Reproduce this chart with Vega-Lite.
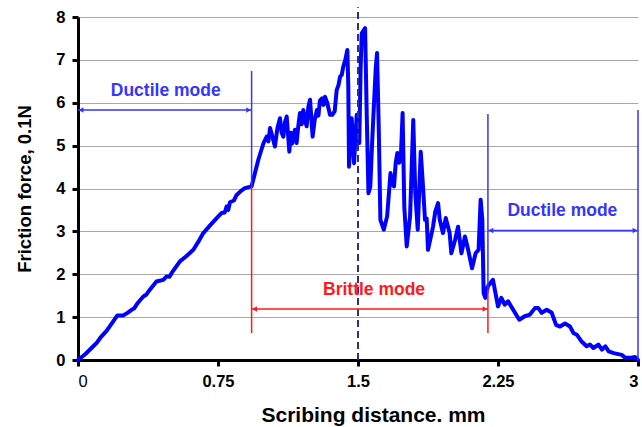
{
  "$schema": "https://vega.github.io/schema/vega-lite/v6.json",
  "autosize": {"type": "none"},
  "padding": {"left": 78, "top": 17, "right": 4, "bottom": 67},
  "width": 560,
  "height": 343,
  "background": "white",
  "config": {
    "view": {"stroke": null},
    "font": "Liberation Sans",
    "axis": {
      "labelFont": "Liberation Sans",
      "labelFontWeight": "bold",
      "labelFontSize": 16.5,
      "labelColor": "black",
      "labelPadding": 7,
      "titleFont": "Liberation Sans",
      "titleFontWeight": "bold",
      "titleColor": "black",
      "domainColor": "black",
      "domainWidth": 3,
      "tickColor": "black",
      "tickWidth": 3,
      "tickSize": 6,
      "gridColor": "#a8a8a8",
      "gridWidth": 1
    }
  },
  "datasets": {
    "friction": [
      {"x": 0, "y": 0}, {"x": 0.04, "y": 0.14}, {"x": 0.082, "y": 0.32}, {"x": 0.1, "y": 0.4}, {"x": 0.12, "y": 0.52},
      {"x": 0.153, "y": 0.68}, {"x": 0.185, "y": 0.88}, {"x": 0.211, "y": 1.04}, {"x": 0.243, "y": 1.04},
      {"x": 0.265, "y": 1.1}, {"x": 0.287, "y": 1.17}, {"x": 0.3, "y": 1.2}, {"x": 0.32, "y": 1.33}, {"x": 0.35, "y": 1.48},
      {"x": 0.365, "y": 1.52}, {"x": 0.385, "y": 1.64}, {"x": 0.42, "y": 1.83}, {"x": 0.457, "y": 1.87}, {"x": 0.475, "y": 1.95},
      {"x": 0.49, "y": 1.94}, {"x": 0.502, "y": 2.03}, {"x": 0.546, "y": 2.3}, {"x": 0.58, "y": 2.42}, {"x": 0.618, "y": 2.57},
      {"x": 0.645, "y": 2.76}, {"x": 0.671, "y": 2.96}, {"x": 0.71, "y": 3.15}, {"x": 0.743, "y": 3.31},
      {"x": 0.77, "y": 3.43}, {"x": 0.786, "y": 3.44}, {"x": 0.796, "y": 3.58}, {"x": 0.805, "y": 3.5}, {"x": 0.814, "y": 3.68}, {"x": 0.835, "y": 3.72},
      {"x": 0.85, "y": 3.85}, {"x": 0.875, "y": 3.95}, {"x": 0.894, "y": 4.01}, {"x": 0.93, "y": 4.05},
      {"x": 0.948, "y": 4.36}, {"x": 0.966, "y": 4.67}, {"x": 0.993, "y": 5.05}, {"x": 1.011, "y": 5.21},
      {"x": 1.02, "y": 5.1}, {"x": 1.029, "y": 5.41}, {"x": 1.042, "y": 5.2}, {"x": 1.055, "y": 4.98}, {"x": 1.068, "y": 5.4},
      {"x": 1.082, "y": 5.64}, {"x": 1.091, "y": 5.3}, {"x": 1.1, "y": 5.21}, {"x": 1.109, "y": 5.55}, {"x": 1.118, "y": 5.68}, {"x": 1.132, "y": 4.86},
      {"x": 1.14, "y": 5.3}, {"x": 1.147, "y": 5.05}, {"x": 1.162, "y": 5.37}, {"x": 1.171, "y": 5.06}, {"x": 1.18, "y": 5.45}, {"x": 1.189, "y": 5.76},
      {"x": 1.198, "y": 5.5}, {"x": 1.207, "y": 5.83}, {"x": 1.216, "y": 5.6}, {"x": 1.225, "y": 5.45}, {"x": 1.234, "y": 5.9}, {"x": 1.243, "y": 6.07}, {"x": 1.257, "y": 5.21},
      {"x": 1.268, "y": 5.6}, {"x": 1.28, "y": 5.83}, {"x": 1.288, "y": 5.7}, {"x": 1.296, "y": 6.05}, {"x": 1.307, "y": 6.1}, {"x": 1.315, "y": 5.95}, {"x": 1.323, "y": 6.14},
      {"x": 1.335, "y": 6.0}, {"x": 1.35, "y": 5.72}, {"x": 1.362, "y": 5.72}, {"x": 1.375, "y": 5.8},
      {"x": 1.386, "y": 6.3}, {"x": 1.395, "y": 6.4}, {"x": 1.404, "y": 6.61}, {"x": 1.413, "y": 6.65}, {"x": 1.421, "y": 6.84},
      {"x": 1.432, "y": 7.0}, {"x": 1.443, "y": 7.23}, {"x": 1.448, "y": 6.4}, {"x": 1.452, "y": 4.51},
      {"x": 1.466, "y": 5.64}, {"x": 1.479, "y": 4.59}, {"x": 1.493, "y": 5.72}, {"x": 1.502, "y": 5.4},
      {"x": 1.507, "y": 5.06}, {"x": 1.514, "y": 6.8}, {"x": 1.52, "y": 7.62}, {"x": 1.538, "y": 7.74},
      {"x": 1.547, "y": 5.68}, {"x": 1.556, "y": 3.89}, {"x": 1.566, "y": 4.05}, {"x": 1.575, "y": 5.0},
      {"x": 1.584, "y": 5.83}, {"x": 1.595, "y": 6.8}, {"x": 1.602, "y": 7.16}, {"x": 1.611, "y": 5.45},
      {"x": 1.62, "y": 3.27}, {"x": 1.638, "y": 3.04}, {"x": 1.656, "y": 3.35}, {"x": 1.674, "y": 4.36},
      {"x": 1.683, "y": 4.1}, {"x": 1.693, "y": 4.05}, {"x": 1.702, "y": 4.6}, {"x": 1.711, "y": 4.83},
      {"x": 1.72, "y": 4.6}, {"x": 1.729, "y": 4.67}, {"x": 1.739, "y": 5.76}, {"x": 1.748, "y": 3.58},
      {"x": 1.761, "y": 2.65}, {"x": 1.779, "y": 3.35}, {"x": 1.796, "y": 5.6}, {"x": 1.807, "y": 3.89},
      {"x": 1.82, "y": 3.04}, {"x": 1.836, "y": 4.86}, {"x": 1.846, "y": 4.2}, {"x": 1.859, "y": 3.27},
      {"x": 1.868, "y": 3.3}, {"x": 1.875, "y": 2.57}, {"x": 1.902, "y": 3.11}, {"x": 1.914, "y": 3.46},
      {"x": 1.929, "y": 3.66}, {"x": 1.938, "y": 3.27}, {"x": 1.955, "y": 2.96}, {"x": 1.97, "y": 3.31},
      {"x": 1.991, "y": 2.96}, {"x": 2.0, "y": 2.49}, {"x": 2.02, "y": 2.8}, {"x": 2.036, "y": 3.11},
      {"x": 2.054, "y": 2.49}, {"x": 2.073, "y": 2.88}, {"x": 2.09, "y": 2.57}, {"x": 2.111, "y": 2.14},
      {"x": 2.13, "y": 2.49}, {"x": 2.146, "y": 2.57}, {"x": 2.157, "y": 3.74}, {"x": 2.166, "y": 3.27},
      {"x": 2.173, "y": 1.56}, {"x": 2.182, "y": 1.45}, {"x": 2.196, "y": 1.72}, {"x": 2.223, "y": 1.87},
      {"x": 2.25, "y": 1.25}, {"x": 2.268, "y": 1.45}, {"x": 2.286, "y": 1.29}, {"x": 2.304, "y": 1.37},
      {"x": 2.341, "y": 1.1}, {"x": 2.364, "y": 0.94}, {"x": 2.393, "y": 1.02}, {"x": 2.421, "y": 1.06},
      {"x": 2.448, "y": 1.21}, {"x": 2.466, "y": 1.21}, {"x": 2.484, "y": 1.1}, {"x": 2.511, "y": 1.17},
      {"x": 2.538, "y": 1.1}, {"x": 2.561, "y": 0.82}, {"x": 2.582, "y": 0.78}, {"x": 2.609, "y": 0.85},
      {"x": 2.636, "y": 0.78}, {"x": 2.654, "y": 0.63}, {"x": 2.672, "y": 0.59}, {"x": 2.698, "y": 0.43},
      {"x": 2.725, "y": 0.32}, {"x": 2.743, "y": 0.36}, {"x": 2.761, "y": 0.28}, {"x": 2.788, "y": 0.36},
      {"x": 2.807, "y": 0.24}, {"x": 2.825, "y": 0.32}, {"x": 2.843, "y": 0.2}, {"x": 2.87, "y": 0.16},
      {"x": 2.913, "y": 0.12}, {"x": 2.932, "y": 0.05}, {"x": 2.957, "y": 0.05}, {"x": 2.984, "y": 0.07},
      {"x": 3.0, "y": 0.0}
    ],
    "boundaries": [
      {"x": 0.93, "y": 4.05, "y2": 6.74, "kind": "ductile"},
      {"x": 0.93, "y": 0.63, "y2": 4.05, "kind": "brittle"},
      {"x": 2.196, "y": 1.64, "y2": 5.74, "kind": "ductile"},
      {"x": 2.196, "y": 0.63, "y2": 1.64, "kind": "brittle"},
      {"x": 3.0, "y": 0, "y2": 5.83, "kind": "ductile"}
    ],
    "peakLine": [
      {"x": 1.5, "y": 0, "y2": 8.23}
    ],
    "spans": [
      {"x": 0, "x2": 0.93, "y": 5.83, "kind": "ductile"},
      {"x": 0.93, "x2": 2.196, "y": 1.19, "kind": "brittle"},
      {"x": 2.196, "x2": 3.0, "y": 3.02, "kind": "ductile"}
    ],
    "heads": [
      {"x": 0, "y": 5.83, "end": "start", "kind": "ductile"},
      {"x": 0.93, "y": 5.83, "end": "end", "kind": "ductile"},
      {"x": 0.93, "y": 1.19, "end": "start", "kind": "brittle"},
      {"x": 2.196, "y": 1.19, "end": "end", "kind": "brittle"},
      {"x": 2.196, "y": 3.02, "end": "start", "kind": "ductile"},
      {"x": 3.0, "y": 3.02, "end": "end", "kind": "ductile"}
    ],
    "labels": [
      {"x": 0.47, "y": 6.28, "label": "Ductile mode", "kind": "ductile"},
      {"x": 1.586, "y": 1.64, "label": "Brittle mode", "kind": "brittle"},
      {"x": 2.595, "y": 3.48, "label": "Ductile mode", "kind": "ductile"}
    ]
  },
  "encoding": {
    "x": {
      "field": "x",
      "type": "quantitative",
      "scale": {"domain": [0, 3], "nice": false, "zero": false},
      "axis": {
        "title": "Scribing distance. mm",
        "titleFontSize": 21,
        "titleBaseline": "alphabetic",
        "titleX": 295,
        "titleY": 61,
        "values": [0, 0.75, 1.5, 2.25, 3],
        "labelExpr": "'' + datum.value",
        "labelFontWeight": {"condition": {"test": "datum.value === 0", "value": "normal"}, "value": "bold"},
        "grid": false
      }
    },
    "y": {
      "field": "y",
      "type": "quantitative",
      "scale": {"domain": [0, 8], "nice": false, "zero": false},
      "axis": {
        "title": "Friction force, 0.1N",
        "titleFontSize": 18.5,
        "titleBaseline": "alphabetic",
        "titleX": -48,
        "values": [0, 1, 2, 3, 4, 5, 6, 7, 8],
        "grid": true
      }
    }
  },
  "layer": [
    {
      "data": {"name": "friction"},
      "mark": {"type": "line", "color": "#0000ff", "strokeWidth": 4, "strokeJoin": "round", "strokeCap": "round"}
    },
    {
      "data": {"name": "peakLine"},
      "mark": {"type": "rule", "color": "#2e2e8f", "strokeWidth": 2, "strokeDash": [7, 4]},
      "encoding": {"y2": {"field": "y2"}}
    },
    {
      "data": {"name": "boundaries"},
      "mark": {"type": "rule", "strokeWidth": 1.5},
      "encoding": {
        "y2": {"field": "y2"},
        "color": {"field": "kind", "type": "nominal", "scale": {"domain": ["ductile", "brittle"], "range": ["#3535ff", "#ff1a1a"]}, "legend": null}
      }
    },
    {
      "data": {"name": "spans"},
      "mark": {"type": "rule", "strokeWidth": 1.5},
      "encoding": {
        "x2": {"field": "x2"},
        "color": {"field": "kind", "type": "nominal", "scale": {"domain": ["ductile", "brittle"], "range": ["#3535ff", "#ff1a1a"]}, "legend": null}
      }
    },
    {
      "data": {"name": "heads"},
      "transform": [{"filter": "datum.end === 'start'"}],
      "mark": {"type": "point", "shape": "triangle-left", "filled": true, "size": 30, "opacity": 1, "xOffset": 3},
      "encoding": {
        "color": {"field": "kind", "type": "nominal", "scale": {"domain": ["ductile", "brittle"], "range": ["#3535ff", "#ff1a1a"]}, "legend": null}
      }
    },
    {
      "data": {"name": "heads"},
      "transform": [{"filter": "datum.end === 'end'"}],
      "mark": {"type": "point", "shape": "triangle-right", "filled": true, "size": 30, "opacity": 1, "xOffset": -3},
      "encoding": {
        "color": {"field": "kind", "type": "nominal", "scale": {"domain": ["ductile", "brittle"], "range": ["#3535ff", "#ff1a1a"]}, "legend": null}
      }
    },
    {
      "data": {"name": "labels"},
      "mark": {"type": "text", "font": "Liberation Sans", "fontWeight": "bold", "fontSize": 17.5, "align": "center", "baseline": "middle"},
      "encoding": {
        "text": {"field": "label"},
        "color": {"field": "kind", "type": "nominal", "scale": {"domain": ["ductile", "brittle"], "range": ["#1414ff", "#ff0000"]}, "legend": null}
      }
    }
  ]
}
